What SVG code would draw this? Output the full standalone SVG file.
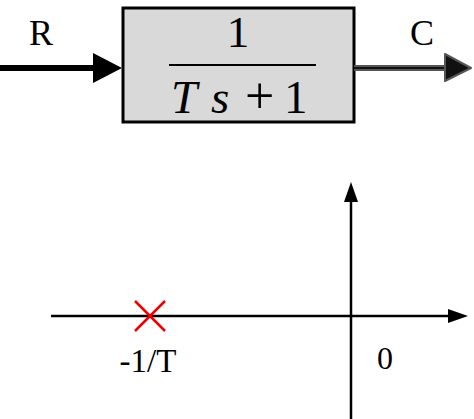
<svg xmlns="http://www.w3.org/2000/svg" width="474" height="419" viewBox="0 0 474 419">
<style>
.t{font-family:"Liberation Serif","Times New Roman",serif;fill:#000}
.ax{stroke:#000;stroke-width:2.5;fill:none}
</style>
<g id="block">
<rect x="123" y="8" width="231" height="114" fill="#d9d9d9" stroke="#000" stroke-width="3"/>
<text class="t" x="238" y="47" font-size="45" text-anchor="middle">1</text>
<line x1="169" y1="65" x2="316" y2="65" stroke="#000" stroke-width="2"/>
<text class="t" y="113" font-size="47"><tspan x="171" font-style="italic">T</tspan><tspan x="211" font-style="italic">s</tspan><tspan x="245" font-size="52">+</tspan><tspan x="284">1</tspan></text>
</g>
<g id="labels">
<text class="t" x="41" y="45" font-size="36" text-anchor="middle">R</text>
<text class="t" x="422" y="45" font-size="36" text-anchor="middle">C</text>
</g>
<g id="connectors">
<line x1="0" y1="68" x2="96" y2="68" stroke="#000" stroke-width="6"/>
<path d="M93,53 L122,68 L93,83 Z" fill="#000"/>
<line x1="354" y1="68" x2="447" y2="68" stroke="#555" stroke-width="6"/>
<line x1="354" y1="68" x2="447" y2="68" stroke="#111" stroke-width="2"/>
<path d="M445,54 L471,68 L445,81 Z" fill="#111" stroke="#555" stroke-width="2" stroke-linejoin="round"/>
</g>
<g id="axes">
<line class="ax" x1="51" y1="316" x2="452" y2="316"/>
<path d="M448,309 L468,316 L448,323 Z" fill="#000"/>
<line class="ax" x1="351" y1="419" x2="351" y2="198"/>
<path d="M344,202 L351,182 L358,202 Z" fill="#000"/>
</g>
<g id="pole">
<path d="M135,301 L165,331 M165,301 L135,331" stroke="#e00" stroke-width="2.5" fill="none"/>
<text class="t" x="148" y="372" font-size="33" text-anchor="middle">-1/T</text>
</g>
<g id="origin">
<text class="t" x="385" y="369" font-size="32" text-anchor="middle">0</text>
</g>
</svg>
